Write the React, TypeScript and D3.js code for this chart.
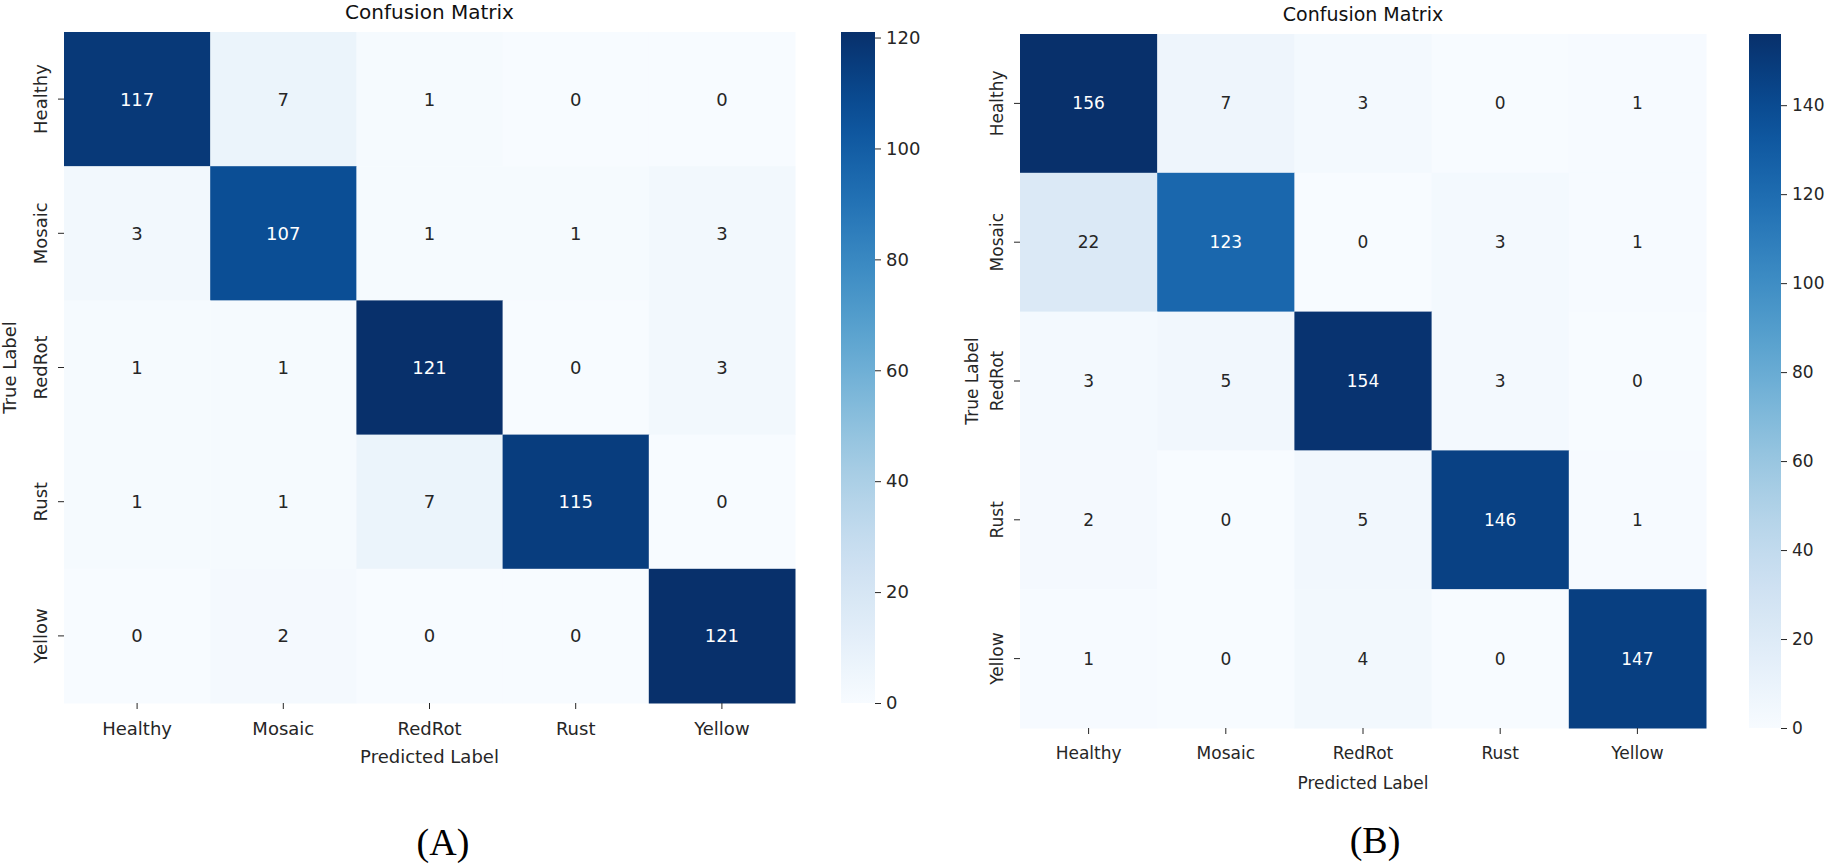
import React, { useEffect, useRef } from 'react';
import * as d3 from 'd3';

// class names shared by both matrices
const classes = ['Healthy', 'Mosaic', 'RedRot', 'Rust', 'Yellow'];

// (A) rows = true label, cols = predicted label
const matrixA = [
    [117, 7, 1, 0, 0],
    [3, 107, 1, 1, 3],
    [1, 1, 121, 0, 3],
    [1, 1, 7, 115, 0],
    [0, 2, 0, 0, 121],
];

// (B)
const matrixB = [
    [156, 7, 3, 0, 1],
    [22, 123, 0, 3, 1],
    [3, 5, 154, 3, 0],
    [2, 0, 5, 146, 1],
    [1, 0, 4, 0, 147],
];

const colorTicksA = [0, 20, 40, 60, 80, 100, 120];
const colorTicksB = [0, 20, 40, 60, 80, 100, 120, 140];

const FONT = '"DejaVu Sans", sans-serif';

interface PanelProps {
    id: string;
    data: number[][];
    colorTicks: number[];
    left: number;
    top: number;
    width: number;
    height: number;
    cbGap: number;
    cbWidth: number;
    fontSize: number;
    yTickOffset: number;
    yTitleOffset: number;
    xTickOffset: number;
    xTitleOffset: number;
    caption: string;
    captionX: number;
    captionY: number;
}

function drawPanel(svg: d3.Selection<SVGSVGElement, unknown, null, undefined>, p: PanelProps) {
    const values = p.data.flat();
    const maxVal = d3.max(values) as number;

    const color = d3.scaleSequential(d3.interpolateBlues).domain([0, maxVal]);

    const x = d3.scaleBand<string>().domain(classes).range([p.left, p.left + p.width]).padding(0);
    const y = d3.scaleBand<string>().domain(classes).range([p.top, p.top + p.height]).padding(0);

    const g = svg.append('g').attr('font-family', FONT);

    // cells
    const cells = p.data.flatMap((row, i) =>
        row.map((v, j) => ({ row: classes[i], col: classes[j], v }))
    );

    g.selectAll('rect.cell')
        .data(cells)
        .enter()
        .append('rect')
        .attr('class', 'cell')
        .attr('x', d => x(d.col) as number)
        .attr('y', d => y(d.row) as number)
        .attr('width', x.bandwidth() + 0.5)
        .attr('height', y.bandwidth() + 0.5)
        .attr('fill', d => color(d.v));

    // annotations - seaborn picks white on dark cells
    g.selectAll('text.ann')
        .data(cells)
        .enter()
        .append('text')
        .attr('class', 'ann')
        .attr('x', d => (x(d.col) as number) + x.bandwidth() / 2)
        .attr('y', d => (y(d.row) as number) + y.bandwidth() / 2)
        .attr('text-anchor', 'middle')
        .attr('dominant-baseline', 'central')
        .attr('font-size', p.fontSize)
        .attr('fill', d => {
            const c = d3.rgb(color(d.v));
            const lin = (u: number) => {
                u /= 255;
                return u <= 0.03928 ? u / 12.92 : Math.pow((u + 0.055) / 1.055, 2.4);
            };
            const lum = 0.2126 * lin(c.r) + 0.7152 * lin(c.g) + 0.0722 * lin(c.b);
            return lum > 0.408 ? '#262626' : '#ffffff';
        })
        .text(d => d.v);

    const bottom = p.top + p.height;

    // x ticks
    classes.forEach(c => {
        const cx = (x(c) as number) + x.bandwidth() / 2;
        g.append('line')
            .attr('x1', cx).attr('x2', cx)
            .attr('y1', bottom).attr('y2', bottom + 6)
            .attr('stroke', '#262626').attr('stroke-width', 1);
        g.append('text')
            .attr('x', cx)
            .attr('y', bottom + p.xTickOffset)
            .attr('text-anchor', 'middle')
            .attr('dominant-baseline', 'central')
            .attr('font-size', p.fontSize)
            .attr('fill', '#262626')
            .text(c);
    });

    // y ticks (rotated)
    classes.forEach(c => {
        const cy = (y(c) as number) + y.bandwidth() / 2;
        g.append('line')
            .attr('x1', p.left - 6).attr('x2', p.left)
            .attr('y1', cy).attr('y2', cy)
            .attr('stroke', '#262626').attr('stroke-width', 1);
        const tx = p.left - p.yTickOffset;
        g.append('text')
            .attr('transform', `translate(${tx},${cy}) rotate(-90)`)
            .attr('text-anchor', 'middle')
            .attr('dominant-baseline', 'central')
            .attr('font-size', p.fontSize)
            .attr('fill', '#262626')
            .text(c);
    });

    // axis titles
    g.append('text')
        .attr('x', p.left + p.width / 2)
        .attr('y', bottom + p.xTitleOffset)
        .attr('text-anchor', 'middle')
        .attr('dominant-baseline', 'central')
        .attr('font-size', p.fontSize)
        .attr('fill', '#262626')
        .text('Predicted Label');

    g.append('text')
        .attr('transform', `translate(${p.left - p.yTitleOffset},${p.top + p.height / 2}) rotate(-90)`)
        .attr('text-anchor', 'middle')
        .attr('dominant-baseline', 'central')
        .attr('font-size', p.fontSize)
        .attr('fill', '#262626')
        .text('True Label');

    g.append('text')
        .attr('x', p.left + p.width / 2)
        .attr('y', p.top - 20)
        .attr('text-anchor', 'middle')
        .attr('dominant-baseline', 'central')
        .attr('font-size', p.fontSize + 2)
        .attr('fill', '#111')
        .text('Confusion Matrix');

    // colorbar
    const cbX = p.left + p.width + p.cbGap;
    const cbScale = d3.scaleLinear().domain([0, maxVal]).range([bottom, p.top]);

    const gradId = `cb-${p.id}`;
    const grad = svg.append('defs')
        .append('linearGradient')
        .attr('id', gradId)
        .attr('x1', '0%').attr('y1', '100%')
        .attr('x2', '0%').attr('y2', '0%');
    d3.range(0, 1.0001, 0.05).forEach(t => {
        grad.append('stop')
            .attr('offset', `${t * 100}%`)
            .attr('stop-color', color(t * maxVal));
    });

    g.append('rect')
        .attr('x', cbX)
        .attr('y', p.top)
        .attr('width', p.cbWidth)
        .attr('height', p.height)
        .attr('fill', `url(#${gradId})`);

    const cbAxis = d3.axisRight(cbScale)
        .tickValues(p.colorTicks)
        .tickSize(6)
        .tickPadding(5)
        .tickFormat(d3.format('d'));

    const ax = g.append('g')
        .attr('transform', `translate(${cbX + p.cbWidth},0)`)
        .call(cbAxis);
    ax.select('.domain').remove();
    ax.selectAll('line').attr('stroke', '#262626');
    ax.selectAll('text')
        .attr('font-size', p.fontSize)
        .attr('font-family', FONT)
        .attr('fill', '#262626');

    // panel caption
    svg.append('text')
        .attr('x', p.captionX)
        .attr('y', p.captionY)
        .attr('text-anchor', 'middle')
        .attr('dominant-baseline', 'central')
        .attr('font-family', '"Liberation Serif", "Times New Roman", serif')
        .attr('font-size', 38)
        .attr('fill', '#000')
        .text(p.caption);
}

const App: React.FC = () => {
    const svgRef = useRef<SVGSVGElement>(null);

    useEffect(() => {
        document.body.style.margin = '0';
        if (!svgRef.current) return;
        const svg = d3.select(svgRef.current);
        svg.selectAll('*').remove();

        drawPanel(svg, {
            id: 'a',
            data: matrixA,
            colorTicks: colorTicksA,
            left: 64,
            top: 32,
            width: 731,
            height: 671,
            cbGap: 46,
            cbWidth: 34,
            fontSize: 18,
            yTickOffset: 24,
            yTitleOffset: 55,
            xTickOffset: 25,
            xTitleOffset: 53,
            caption: '(A)',
            captionX: 443,
            captionY: 842,
        });

        drawPanel(svg, {
            id: 'b',
            data: matrixB,
            colorTicks: colorTicksB,
            left: 1020,
            top: 34,
            width: 686,
            height: 694,
            cbGap: 43,
            cbWidth: 32,
            fontSize: 17,
            yTickOffset: 23,
            yTitleOffset: 48,
            xTickOffset: 25,
            xTitleOffset: 55,
            caption: '(B)',
            captionX: 1375,
            captionY: 840,
        });
    }, []);

    return (
        <svg
            ref={svgRef}
            width={1832}
            height={864}
            style={{ display: 'block', background: '#fff' }}
        />
    );
};

export default App;
